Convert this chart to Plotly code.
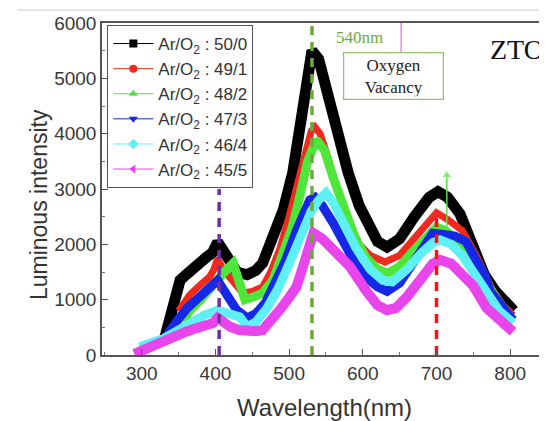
import plotly.graph_objects as go

# ---------------- data ----------------
wl_5000 = [330, 340, 352, 360, 369, 380, 388, 396, 403, 410, 420, 429, 443, 455, 464, 478, 492, 505, 515, 522,
           531, 540, 550, 565, 580, 595, 610, 620, 633, 650, 670, 690, 702, 715, 732, 750, 765, 780, 795, 805]
int_5000 = [250, 700, 1350, 1450, 1570, 1650, 1770, 1850, 2040, 1900, 1650, 1500, 1450, 1530, 1660, 2080, 2620, 3300, 4200, 4900,
            5500, 5350, 4800, 4000, 3300, 2700, 2250, 2050, 1950, 2100, 2500, 2850, 2950, 2850, 2550, 2000, 1450, 1150, 900, 800]

wl_4901 = [350, 358, 365, 378, 392, 398, 403, 410, 424, 437, 450, 464, 475, 487, 500, 512, 522, 530, 535, 542,
           552, 565, 580, 595, 610, 630, 650, 670, 690, 700, 715, 735, 755, 775, 790, 804]
int_4901 = [800, 950, 1085, 1250, 1410, 1550, 1750, 1550, 1300, 1120, 1150, 1230, 1500, 1900, 2500, 3150, 3700, 4050, 4120, 4000,
            3600, 3000, 2450, 2000, 1800, 1680, 1800, 2100, 2400, 2570, 2450, 2250, 1770, 1200, 900, 720]

wl_4802 = [356, 365, 380, 395, 403, 412, 424, 432, 440, 452, 464, 478, 490, 504, 515, 525, 537, 548, 560, 575,
           590, 605, 620, 634, 650, 670, 690, 700, 712, 730, 750, 770, 785, 800]
int_4802 = [600, 800, 1000, 1250, 1410, 1500, 1660, 1300, 1000, 1050, 1120, 1350, 1750, 2300, 2900, 3500, 3890, 3700, 3200, 2600,
            2100, 1750, 1550, 1480, 1600, 1900, 2200, 2310, 2250, 2050, 1770, 1250, 950, 700]

wl_4703 = [331, 340, 352, 362, 375, 387, 397, 403, 410, 420, 429, 443, 455, 468, 480, 495, 510, 520, 528, 535,
           545, 560, 575, 590, 605, 620, 633, 650, 670, 685, 695, 710, 725, 740, 755, 765, 773, 785, 804]
int_4703 = [300, 500, 690, 850, 1000, 1130, 1230, 1350, 1200, 1000, 810, 670, 750, 950, 1250, 1700, 2250, 2600, 2800, 2850,
            2700, 2380, 2000, 1650, 1400, 1230, 1150, 1300, 1700, 2000, 2200, 2180, 2150, 2050, 1720, 1450, 1150, 950, 630]

wl_4604 = [297, 305, 315, 330, 345, 358, 369, 385, 403, 415, 433, 443, 455, 470, 485, 500, 515, 530, 540, 550,
           560, 575, 590, 610, 627, 640, 660, 680, 695, 705, 720, 735, 750, 768, 785, 804]
int_4604 = [150, 200, 230, 300, 420, 520, 630, 720, 810, 750, 690, 510, 600, 850, 1200, 1650, 2150, 2600, 2800, 2930,
            2750, 2350, 1950, 1550, 1350, 1320, 1550, 1850, 2030, 2080, 2000, 1800, 1480, 1120, 800, 580]

wl_4505 = [290, 300, 315, 329, 345, 360, 375, 390, 397, 403, 410, 420, 432, 443, 455, 464, 475, 487, 498, 510,
           520, 533, 545, 560, 583, 605, 620, 633, 645, 660, 680, 695, 705, 720, 735, 750, 768, 785, 804]
int_4505 = [20, 80, 170, 270, 350, 420, 490, 550, 580, 670, 600, 510, 450, 420, 430, 450, 600, 810, 1000, 1230,
            1650, 2200, 2100, 1900, 1590, 1150, 900, 810, 850, 1050, 1400, 1650, 1720, 1650, 1450, 1250, 850, 650, 420]

series_names = ["Ar/O<sub>2</sub> : 50/0", "Ar/O<sub>2</sub> : 49/1", "Ar/O<sub>2</sub> : 48/2",
                "Ar/O<sub>2</sub> : 47/3", "Ar/O<sub>2</sub> : 46/4", "Ar/O<sub>2</sub> : 45/5"]

# thin spike on the 48/2 curve near 710 nm
spike_wl = [714, 714]
spike_int = [2250, 3250]

# reference (dashed) lines: wavelength and top intensity
ref_wl = [405, 531, 700]
ref_top = [3000, 6000, 2600]

x_ticks = [300, 400, 500, 600, 700, 800]
y_ticks = [0, 1000, 2000, 3000, 4000, 5000, 6000]

# ---------------- styling ----------------
colors = ["#000000", "#f02a1e", "#4fe63c", "#1428e6", "#5ff0f5", "#e845ec"]
symbols = ["square", "circle", "triangle-up", "triangle-down", "diamond", "triangle-left"]
ref_colors = ["#7030a0", "#6fa840", "#ff1010"]

fig = go.Figure()

all_wl = [wl_5000, wl_4901, wl_4802, wl_4703, wl_4604, wl_4505]
all_int = [int_5000, int_4901, int_4802, int_4703, int_4604, int_4505]
widths = [11, 7, 9, 9, 9, 10]

for i in range(6):
    fig.add_trace(go.Scatter(x=all_wl[i], y=all_int[i], mode="lines",
                             line=dict(color=colors[i], width=widths[i]),
                             showlegend=False, hoverinfo="skip"))

fig.add_trace(go.Scatter(x=spike_wl, y=spike_int, mode="lines+markers",
                         line=dict(color="#4fe63c", width=1.5),
                         marker=dict(symbol="triangle-up", size=[0, 9], color="#4fe63c"),
                         showlegend=False))

for i in range(3):
    fig.add_trace(go.Scatter(x=[ref_wl[i], ref_wl[i]], y=[0, ref_top[i]], mode="lines",
                             line=dict(color=ref_colors[i], width=3.5, dash="9px,7px"),
                             showlegend=False))

# legend-only entries
for i in range(6):
    fig.add_trace(go.Scatter(x=[None], y=[None], mode="lines+markers", name=series_names[i],
                             line=dict(color=colors[i], width=1),
                             marker=dict(symbol=symbols[i], size=8, color=colors[i])))

# small pink connector line from top frame to the annotation box
fig.add_trace(go.Scatter(x=[652, 652], y=[5480, 6000], mode="lines",
                         line=dict(color="#e070e0", width=1.2), showlegend=False))

fig.update_layout(
    width=547, height=421,
    margin=dict(l=94, r=8, t=15, b=74, autoexpand=False),
    paper_bgcolor="white", plot_bgcolor="white",
    font=dict(family="Liberation Sans, Arial, sans-serif", color="#333333"),
    legend=dict(x=0.012, y=0.994, xanchor="left", yanchor="top",
                bgcolor="white", bordercolor="#555555", borderwidth=1, itemwidth=40,
                font=dict(size=17, color="#333333"), tracegroupgap=0),
    xaxis=dict(range=[246, 850], tickvals=x_ticks, ticks="inside", ticklen=6,
               tickcolor="#555555", showline=True, linecolor="#555555", linewidth=1.5,
               mirror=True, showgrid=False, zeroline=False,
               tickfont=dict(size=19, color="#383838"),
               minor=dict(dtick=50, tick0=250, ticks="inside", ticklen=3, tickcolor="#777777"),
               title=dict(text="Wavelength(nm)", font=dict(size=24, color="#333333"), standoff=17)),
    yaxis=dict(range=[0, 6000], tickvals=y_ticks, ticks="inside", ticklen=6,
               tickcolor="#555555", showline=True, linecolor="#555555", linewidth=1.5,
               showgrid=False, zeroline=False,
               tickfont=dict(size=19, color="#383838"),
               minor=dict(dtick=500, ticks="inside", ticklen=3, tickcolor="#777777")),
    annotations=[
        dict(x=-0.175, y=0.452, xref="paper", yref="paper", text="Luminous intensity",
             textangle=-90, showarrow=False, font=dict(size=23, color="#333333")),
        dict(x=596, y=5730, xref="x", yref="y", text="540nm", showarrow=False,
             font=dict(family="Liberation Serif, Times New Roman, serif", size=17, color="#6fa840")),
        dict(x=641, y=5045, xref="x", yref="y", text="Oxygen<br>Vacancy", showarrow=False,
             font=dict(family="Liberation Serif, Times New Roman, serif", size=17, color="#222222"),
             bordercolor="#8fbf6f", borderwidth=1.2, borderpad=3, bgcolor="white", width=93,
             height=40),
        dict(x=770, y=5530, xref="x", yref="y", text="ZTO", showarrow=False, xanchor="left",
             font=dict(family="Liberation Serif, Times New Roman, serif", size=28, color="#111111")),
    ],
    shapes=[dict(type="line", xref="paper", yref="paper", x0=-0.19, x1=1.02, y0=1.039, y1=1.039,
                 line=dict(color="#cccccc", width=1))],
)

fig.write_html("out.html")
